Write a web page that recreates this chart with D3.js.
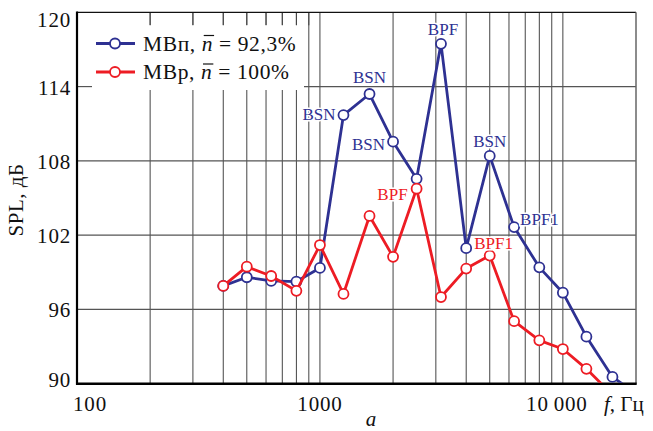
<!DOCTYPE html>
<html><head><meta charset="utf-8">
<script src="https://cdn.jsdelivr.net/npm/d3@7"></script>
<style>body{margin:0;background:#fff}svg{display:block}text{font-family:"Liberation Serif","DejaVu Serif",serif}</style>
</head><body><svg id="c" width="653" height="431"></svg>
<script>
const freqs = [400,500,630,800,1000,1250,1600,2000,2500,3150,4000,5000,6300,8000,10000,12500,16000,20000];
const seriesMBn = [97.9,98.6,98.3,98.25,99.35,111.7,113.4,109.55,106.55,117.45,100.95,108.4,102.65,99.4,97.35,93.8,90.55,89.2];
const seriesMBr = [97.9,99.45,98.7,97.5,101.2,97.25,103.55,100.25,105.75,97.0,99.3,100.35,95.05,93.5,92.8,91.2,89.1];
const yTicks = [90,96,102,108,114,120];
const xLabels = [{v:100,t:"100"},{v:1000,t:"1000"},{v:10000,t:"10\u2009000"}];
const xGrid = [200,300,400,500,600,700,800,900,1000,2000,3000,4000,5000,6000,7000,8000,9000,10000];
const annBlue = [{f:1250,t:"BSN"},{f:1600,t:"BSN"},{f:2000,t:"BSN"},{f:3150,t:"BPF"},{f:5000,t:"BSN"},{f:6300,t:"BPF1"}];
const annRed = [{f:2500,t:"BPF"},{f:4000,t:"BPF1"}];
const legendNames = ["МВп, ","МВр, "];
const legendValues = ["92,3%","100%"];

// label placement (style, not data)
const annPlace = {
  "b1250":{anchor:"end",dx:-8,dy:5},
  "b1600":{anchor:"middle",dx:0,dy:-11},
  "b2000":{anchor:"end",dx:-8,dy:8},
  "b3150":{anchor:"middle",dx:2,dy:-9},
  "b5000":{anchor:"middle",dx:0,dy:-9},
  "b6300":{anchor:"start",dx:6,dy:-2},
  "r2500":{anchor:"end",dx:-9,dy:11},
  "r4000":{anchor:"start",dx:8,dy:-20}
};
const blue="#2e3192", red="#ed1c24";
const legendColors=[blue,red];
const L=77,R=636,T=12.3,B=383.7;
const svg=d3.select("#c");
const x=d3.scaleLog().domain([100,20000]).range([L,R]);
const y=d3.scaleLinear().domain([90,120]).range([B,T]);

// grid
svg.append("g").selectAll("line").data(xGrid).join("line")
  .attr("x1",d=>x(d)).attr("x2",d=>x(d)).attr("y1",T).attr("y2",B)
  .attr("stroke","#444").attr("stroke-width",1);
svg.append("g").selectAll("line").data(yTicks.filter(d=>d>90&&d<120)).join("line")
  .attr("x1",L).attr("x2",R).attr("y1",d=>y(d)).attr("y2",d=>y(d))
  .attr("stroke","#555").attr("stroke-width",1.2);

// legend box
svg.append("rect").attr("x",L+1).attr("y",25).attr("width",226).attr("height",65).attr("fill","#fff");
svg.append("g").selectAll("line").data(xGrid.filter(d=>d<1000)).join("line")
  .attr("x1",d=>x(d)).attr("x2",d=>x(d)).attr("y1",T).attr("y2",T+13)
  .attr("stroke","#444").attr("stroke-width",1);
svg.append("g").selectAll("line").data([114]).join("line")
  .attr("x1",L).attr("x2",L+15).attr("y1",d=>y(d)).attr("y2",d=>y(d))
  .attr("stroke","#555").attr("stroke-width",1.2);

// frame
svg.append("line").attr("x1",L).attr("x2",R).attr("y1",T).attr("y2",T).attr("stroke","#111").attr("stroke-width",1.3);
svg.append("line").attr("x1",R).attr("x2",R).attr("y1",T).attr("y2",B).attr("stroke","#666").attr("stroke-width",1.5);
svg.append("line").attr("x1",L).attr("x2",L).attr("y1",T-0.7).attr("y2",B+1).attr("stroke","#000").attr("stroke-width",2.2);
svg.append("line").attr("x1",L-1).attr("x2",R+0.7).attr("y1",B).attr("y2",B).attr("stroke","#000").attr("stroke-width",2.4);

// y tick labels
svg.append("g").selectAll("text").data(yTicks).join("text")
  .attr("x",71).attr("y",d=>d===120?y(d)+15:(d===90?y(d)+3:y(d)+8))
  .attr("text-anchor","end").attr("font-size",21).attr("letter-spacing",0.8).attr("fill","#111").text(d=>d);
// x tick labels
svg.append("g").selectAll("text").data(xLabels).join("text")
  .attr("x",d=>d.v===100?x(d.v)+13:(d.v===10000?x(d.v)-6:x(d.v)))
  .attr("y",411).attr("text-anchor","middle").attr("font-size",21).attr("letter-spacing",0.8).attr("fill","#111").text(d=>d.t);
const fl=svg.append("text").attr("x",604).attr("y",411).attr("font-size",21).attr("fill","#111");
fl.append("tspan").attr("font-style","italic").text("f");
fl.append("tspan").text(", Гц");
svg.append("text").attr("x",371).attr("y",426).attr("text-anchor","middle").attr("font-size",21).attr("font-style","italic").attr("fill","#111").text("a");
svg.append("text").attr("transform","translate(23,200) rotate(-90)").attr("text-anchor","middle").attr("font-size",21).attr("letter-spacing",0.5).attr("fill","#111").text("SPL, дБ");

// series
svg.append("clipPath").attr("id","clp").append("rect").attr("x",L).attr("y",T-8).attr("width",R-L).attr("height",B-T+7);
const line=d3.line().x(d=>x(d[0])).y(d=>y(d[1]));
function drawSeries(vals,color){
  const pts=vals.map((v,i)=>[freqs[i],v]);
  const g=svg.append("g").attr("clip-path","url(#clp)");
  g.append("path").datum(pts).attr("d",line).attr("fill","none").attr("stroke",color).attr("stroke-width",2.8).attr("stroke-linejoin","round");
  g.selectAll("circle").data(pts.filter(p=>p[1]>=90)).join("circle")
    .attr("cx",d=>x(d[0])).attr("cy",d=>y(d[1])).attr("r",5).attr("fill","#fff").attr("stroke",color).attr("stroke-width",1.8);
}
drawSeries(seriesMBn,blue);
drawSeries(seriesMBr,red);

// annotations
function annotate(list,vals,color,key){
  list.forEach(a=>{
    const i=freqs.indexOf(a.f), p=annPlace[key+a.f];
    svg.append("text").attr("x",x(a.f)+p.dx).attr("y",y(vals[i])+p.dy).attr("text-anchor",p.anchor).attr("font-size",17)
      .attr("fill",color).attr("stroke","#fff").attr("stroke-width",3).attr("paint-order","stroke").text(a.t);
  });
}
annotate(annBlue,seriesMBn,blue,"b");
annotate(annRed,seriesMBr,red,"r");

// legend
legendNames.forEach((nm,i)=>{
  const color=legendColors[i];
  const ly=43.5+i*28.5;
  svg.append("line").attr("x1",96).attr("x2",135).attr("y1",ly).attr("y2",ly).attr("stroke",color).attr("stroke-width",2.8);
  svg.append("circle").attr("cx",115).attr("cy",ly).attr("r",5).attr("fill","#fff").attr("stroke",color).attr("stroke-width",1.8);
  const t=svg.append("text").attr("x",143).attr("y",ly+7).attr("font-size",21.5).attr("letter-spacing",0.6).attr("fill","#111");
  t.append("tspan").text(nm);
  t.append("tspan").attr("font-style","italic").text("n");
  t.append("tspan").text(" = "+legendValues[i]);
  const node=t.node(), k=nm.length;
  const s=node.getStartPositionOfChar(k), e=node.getEndPositionOfChar(k);
  svg.append("line").attr("x1",s.x+2).attr("x2",e.x+1).attr("y1",ly-8).attr("y2",ly-8).attr("stroke","#111").attr("stroke-width",1.2);
});
</script></body></html>
